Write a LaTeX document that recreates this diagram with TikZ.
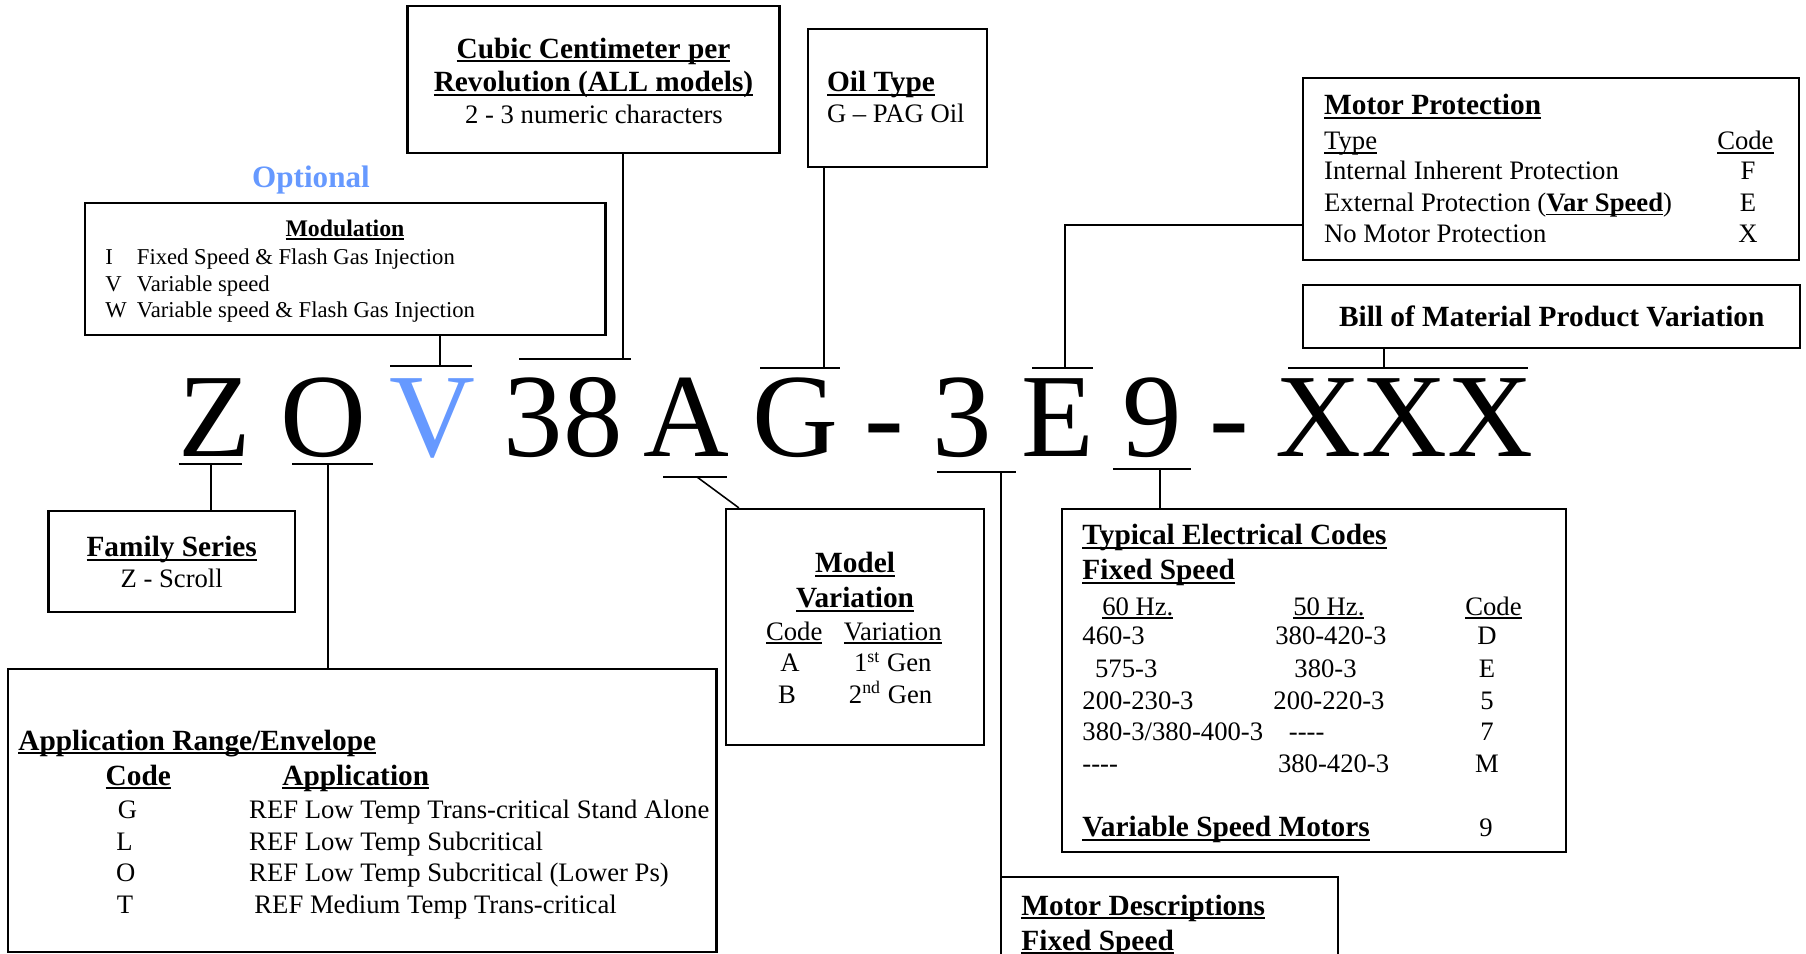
\documentclass[tikz,border=0pt]{standalone}
\usepackage{fontspec}
\setmainfont{Liberation Serif}
\usepackage{xcolor}
\usetikzlibrary{fit}
\definecolor{optblue}{HTML}{6699FF}
\newsavebox{\ulbox}
\newcommand{\ulx}[1]{\sbox{\ulbox}{#1}\rlap{\rule[-0.14em]{\wd\ulbox}{0.065em}}\usebox{\ulbox}}
\newcommand{\hdfont}{\fontsize{13.2}{15}\selectfont\bfseries}
\newcommand{\txfont}{\fontsize{12}{14}\selectfont}
\newcommand{\smfont}{\fontsize{10.2}{12}\selectfont}
\newcommand{\bigfont}{\fontsize{53.5}{60}\selectfont}
\newcommand{\nodash}{-\kern0pt-\kern0pt-\kern0pt-}

\begin{document}
\begin{tikzpicture}[x=0.45pt, y=-0.45pt,
    box/.style={draw, line width=1pt, inner sep=0pt},
    head/.style={font=\hdfont, inner sep=0pt, anchor=base west},
    headc/.style={head, anchor=base},
    txt/.style={font=\txfont, inner sep=0pt, anchor=base west},
    txtc/.style={txt, anchor=base},
    small/.style={font=\smfont, inner sep=0pt, anchor=base west},
    letter/.style={font=\bigfont, inner sep=0pt, anchor=base},
    bar/.style={line width=1.2pt},
    link/.style={line width=0.7pt}]
  \clip (0,0) rectangle (1806,954);

  % boxes
  \node[box, fit={(407.5,6) (779.5,153)}] (cubic) {};
  \node[box, fit={(808,29) (987,167)}] (oil) {};
  \node[box, fit={(85,203) (605.5,335)}] (modul) {};
  \node[box, fit={(1303,78) (1799,260)}] (motprot) {};
  \node[box, fit={(1303,285) (1800,348)}] (bom) {};
  \node[box, fit={(48.5,511) (295,612)}] (family) {};
  \node[box, fit={(726,509) (984,745)}] (model) {};
  \node[box, fit={(1062,509) (1566,852)}] (elec) {};
  \node[box, fit={(7.7,669) (716.5,952)}] (appl) {};
  \node[box, fit={(1001,877) (1338,1020)}] (motdesc) {};

  % model number
  \foreach \ch/\xx/\nm in {Z/215/cZ, O/323.5/cO, 38/563/cN, A/686.5/cA, G/795.5/cG,
      -/884/cDa, 3/962/cT, E/1058/cE, 9/1152/cNine, -/1229.5/cDb, XXX/1404.5/cX}
    \node[letter] (\nm) at (\xx,457) {\ch};
  \node[letter, text=optblue] (cV) at (432.5,457) {V};

  % bars over and under the letters
  \draw[bar] (178.6,464) -- (242,464);
  \draw[bar] (292,464) -- (373,464);
  \draw[bar] (390,366) -- (472,366);
  \draw[bar] (519,359) -- (631,359);
  \draw[bar] (760,368) -- (840,368);
  \draw[bar] (663,477) -- (727,477);
  \draw[bar] (937,472) -- (1016,472);
  \draw[bar] (1032,368) -- (1093,368);
  \draw[bar] (1288,368) -- (1528,368);
  \draw[bar] (1113,469) -- (1191,469);
  \coordinate (zTap) at (211,464);
  \coordinate (oTap) at (328,464);
  \coordinate (vTap) at (440,366);
  \coordinate (nTap) at (623,359);
  \coordinate (gTap) at (824,368);
  \coordinate (aTap) at (697,477);
  \coordinate (tTap) at (1001,472);
  \coordinate (eTap) at (1065,368);
  \coordinate (xTap) at (1384,368);
  \coordinate (nineTap) at (1160,469);

  % connectors
  \draw[link] (zTap) -- (zTap |- family.north);
  \draw[link] (oTap) -- (oTap |- appl.north);
  \draw[link] (vTap) -- (vTap |- modul.south);
  \draw[link] (nTap) -- (nTap |- cubic.south);
  \draw[link] (gTap) -- (gTap |- oil.south);
  \draw[link] (aTap) -- ([xshift=6.3pt]model.north west);
  \draw[link] (tTap) -- (tTap |- motdesc.north);
  \draw[link] ([yshift=16.2pt]motprot.south west) -| (eTap);
  \draw[link] (xTap) -- (xTap |- bom.south);
  \draw[link] (nineTap) -- (nineTap |- elec.north);

  % cubic centimeter
  \node[headc] (cubA) at (593.5,58.3) {\ulx{Cubic Centimeter per}};
  \node[headc] (cubB) at (593.5,91.7) {\ulx{Revolution (ALL models)}};
  \node[txtc] (cubC) at (594,124) {2 - 3 numeric characters};

  % oil type
  \node[head] (oilA) at (826.6,91.7) {\ulx{Oil Type}};
  \node[txt] (oilB) at (826.6,123) {G – PAG Oil};

  % modulation
  \node[font=\fontsize{14}{16}\selectfont\bfseries, text=optblue, inner sep=0pt, anchor=base] (opt) at (311,188) {Optional};
  \node[font=\fontsize{10.7}{12}\selectfont\bfseries, inner sep=0pt, anchor=base] (modA) at (345,236.7) {\ulx{Modulation}};
  \foreach \yy/\cd/\tx [count=\r] in {265/I/Fixed Speed \& Flash Gas Injection,
      291.7/V/Variable speed, 318/W/Variable speed \& Flash Gas Injection} {
    \node[small] (modc\r) at (105,\yy) {\cd};
    \node[small] (modt\r) at (136.5,\yy) {\tx};
  }

  % motor protection
  \node[head] (mpA) at (1323.7,115) {\ulx{Motor Protection}};
  \node[txt] (mpB) at (1323.7,150) {\ulx{Type}};
  \node[txt, anchor=base east] (mpC) at (1774,150) {\ulx{Code}};
  \foreach \yy/\tx/\cd [count=\r] in {180/Internal Inherent Protection/F,
      211.7/External Protection (\ulx{\textbf{Var Speed}})/E, 243/No Motor Protection/X} {
    \node[txt] (mpt\r) at (1323.7,\yy) {\tx};
    \node[txtc] (mpc\r) at (1748,\yy) {\cd};
  }

  % bill of material
  \node[headc] (bomA) at (1551.7,326.7) {Bill of Material Product Variation};

  % family series
  \node[headc] (famA) at (171.7,556.7) {\ulx{Family Series}};
  \node[txtc] (famB) at (171.7,588) {Z - Scroll};

  % model variation
  \node[headc] (mvA) at (855,573) {\ulx{Model}};
  \node[headc] (mvB) at (855,608) {\ulx{Variation}};
  \node[txt] (mvC) at (765.6,640) {\ulx{Code}};
  \node[txt] (mvD) at (843.4,640) {\ulx{Variation}};
  \node[txtc] (mvE) at (790,671.7) {A};
  \node[txt] (mvF) at (853.6,671.7) {1\textsuperscript{st} Gen};
  \node[txtc] (mvG) at (787,703.3) {B};
  \node[txt] (mvH) at (848.5,703.3) {2\textsuperscript{nd} Gen};

  % electrical codes
  \node[head] (elA) at (1082,545) {\ulx{Typical Electrical Codes}};
  \node[head] (elB) at (1082,580) {\ulx{Fixed Speed}};
  \node[txt] (elC) at (1101.8,615) {\ulx{60 Hz.}};
  \node[txt] (elD) at (1292.9,615) {\ulx{50 Hz.}};
  \node[txt] (elE) at (1464.9,615) {\ulx{Code}};
  \foreach \yy/\xa/\ta/\xb/\tb/\cd [count=\r] in {645/1082/460-3/1274.9/380-420-3/D,
      677.3/1094.7/575-3/1294/380-3/E, 709/1082/200-230-3/1273/200-220-3/5,
      740.7/1082/{380-3/380-400-3}/1288.5/\nodash/7, 772.7/1082/\nodash/1277.6/380-420-3/M} {
    \node[txt] (ela\r) at (\xa,\yy) {\ta};
    \node[txt] (elb\r) at (\xb,\yy) {\tb};
    \node[txtc] (elc\r) at (1487,\yy) {\cd};
  }
  \node[head] (elF) at (1082,836.7) {\ulx{Variable Speed Motors}};
  \node[txtc] (elG) at (1486,836.7) {9};

  % application range
  \node[head] (apA) at (17.9,750) {\ulx{Application Range/Envelope}};
  \node[head] (apB) at (105.3,785) {\ulx{Code}};
  \node[head] (apC) at (282,785) {\ulx{Application}};
  \foreach \yy/\xc/\cd/\xt/\tx [count=\r] in {818.3/127.6/G/248.8/REF Low Temp Trans-critical Stand Alone,
      850/124.5/L/248.8/REF Low Temp Subcritical, 881.7/125.7/O/248.8/REF Low Temp Subcritical (Lower Ps),
      913.3/125/T/254/REF Medium Temp Trans-critical} {
    \node[txtc] (apc\r) at (\xc,\yy) {\cd};
    \node[txt] (apt\r) at (\xt,\yy) {\tx};
  }

  % motor descriptions
  \node[head] (mdA) at (1021,915) {\ulx{Motor Descriptions}};
  \node[head] (mdB) at (1021,950) {\ulx{Fixed Speed}};
\end{tikzpicture}
\end{document}
